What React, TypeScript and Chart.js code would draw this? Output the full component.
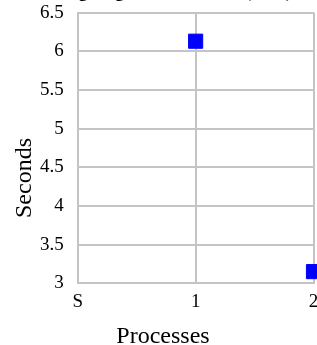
import React, { useEffect, useRef } from "react";
import { Chart, registerables } from "chart.js";

Chart.register(...registerables);

// ---- data ----
const categories = ["S", "1", "2"];
const seconds: (number | null)[] = [null, 6.13, 3.15];
const yMin = 3;
const yMax = 6.5;
const yStep = 0.5;
const chartTitle = "Image segmentation time (MPI)";
const xTitle = "Processes";
const yTitle = "Seconds";

const FONT = "'Liberation Serif', 'Times New Roman', serif";
const CANVAS_W = 326;
const CANVAS_H = 380;

const axisTitlePlugin = {
  id: "axisTitlesCustom",
  afterDraw(chart: any) {
    const { ctx } = chart;
    ctx.save();
    ctx.fillStyle = "#000";
    ctx.font = `24px ${FONT}`;
    ctx.textAlign = "center";
    ctx.textBaseline = "middle";
    ctx.fillText(xTitle, chart.width / 2, 357);
    ctx.translate(25, 198);
    ctx.rotate(-Math.PI / 2);
    ctx.fillText(yTitle, 0, 0);
    ctx.restore();
  },
};

export default function App() {
  const ref = useRef<HTMLCanvasElement | null>(null);
  useEffect(() => {
    if (!ref.current) return;
    const chart = new Chart(ref.current, {
      type: "line",
      data: {
        labels: categories,
        datasets: [
          {
            label: yTitle,
            data: seconds,
            showLine: false,
            pointStyle: "rect",
            pointRadius: 10,
            pointHoverRadius: 10,
            pointBorderWidth: 1,
            pointBackgroundColor: "#0000ff",
            pointBorderColor: "#0000ff",
            clip: false,
          } as any,
        ],
      },
      options: {
        responsive: false,
        animation: false,
        layout: { padding: { left: 26, right: 12.5, top: 0, bottom: 40 } },
        plugins: {
          legend: { display: false },
          tooltip: { enabled: false },
          title: {
            display: true,
            text: chartTitle,
            color: "#000",
            font: { family: FONT, size: 18, weight: "bold" },
            padding: { top: 2, bottom: 9 },
          },
        },
        scales: {
          x: {
            type: "category",
            offset: false,
            grid: { color: "#c4c4c4", lineWidth: 2, drawTicks: false, offset: false },
            border: { color: "#c4c4c4", width: 2 },
            ticks: { color: "#000", font: { family: FONT, size: 19 }, padding: 7, maxRotation: 0, autoSkip: false },
          },
          y: {
            min: yMin,
            max: yMax,
            grid: { color: "#c4c4c4", lineWidth: 2, drawTicks: false },
            border: { color: "#c4c4c4", width: 2 },
            ticks: {
              stepSize: yStep,
              color: "#000",
              font: { family: FONT, size: 19 },
              padding: 14,
              callback: (v: any) => String(Number(v)),
            },
          },
        },
      },
      plugins: [axisTitlePlugin],
    });
    return () => chart.destroy();
  }, []);
  return (
    <div style={{ position: "fixed", left: 0, top: -20, width: CANVAS_W, height: CANVAS_H }}>
      <canvas ref={ref} width={CANVAS_W} height={CANVAS_H} style={{ width: CANVAS_W, height: CANVAS_H, display: "block" }} />
    </div>
  );
}
